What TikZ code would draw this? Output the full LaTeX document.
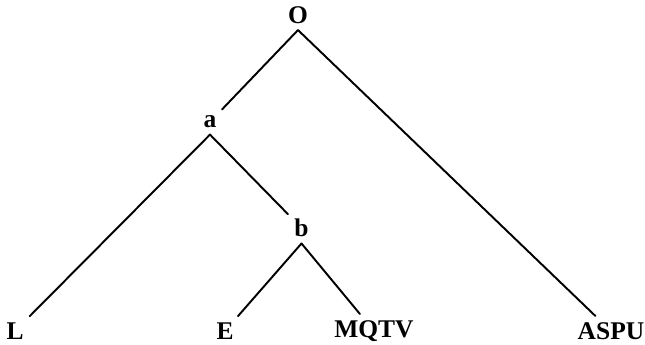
\documentclass[tikz,border=0pt]{standalone}
\usepackage{fontspec}
\setmainfont{Liberation Serif}
\usepackage{tikz}

\begin{document}
\begin{tikzpicture}[x=1cm,y=1cm,line cap=round,line join=round]
  \tikzset{lab/.style={inner sep=3.5pt,font=\fontsize{14.5}{16}\selectfont\bfseries},
    branch/.style={line width=1.1pt}}
  \useasboundingbox (0,0) rectangle (12.9,6.9);
  \node[lab] (O) at (5.96,6.60) {O};
  \node[lab] (a) at (4.20,4.46) {a};
  \node[lab] (b) at (6.03,2.34) {b};
  \node[lab] (L) at (0.30,0.28) {L};
  \node[lab] (E) at (4.50,0.28) {E};
  \node[lab] (MQTV) at (7.48,0.28) {MQTV};
  \node[lab] (ASPU) at (12.22,0.28) {ASPU};
  \draw[branch] (a) -- (O.south) -- (ASPU);
  \draw[branch] (L) -- (a.south) -- (b);
  \draw[branch] (E) -- (b.south) -- (MQTV);
\end{tikzpicture}
\end{document}
